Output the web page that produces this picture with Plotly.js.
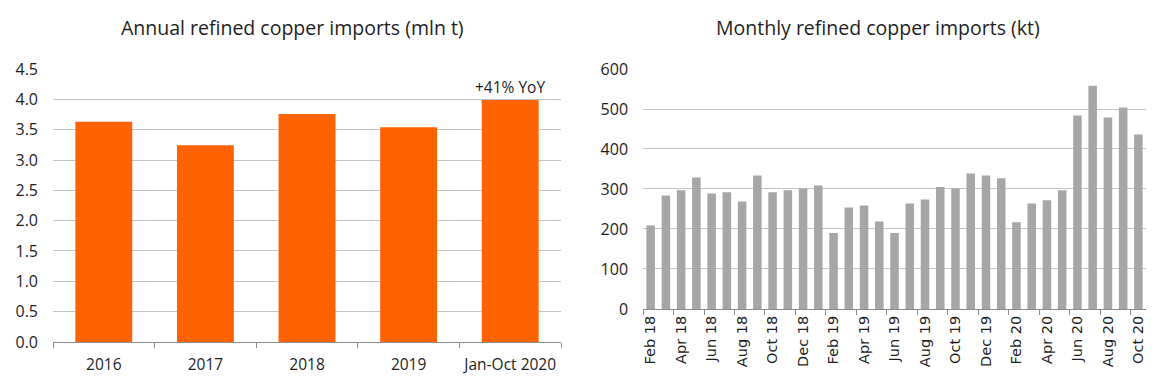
<!DOCTYPE html>
<html>
<head>
<meta charset="utf-8">
<script src="https://cdn.plot.ly/plotly-3.0.1.min.js"></script>
<style>html,body{margin:0;padding:0;background:#fff;}#chart{width:1170px;height:387px;}</style>
</head>
<body>
<div id="chart"></div>
<script>
const annualCategories = ["2016", "2017", "2018", "2019", "Jan-Oct 2020"];
const annualValues = [3.63, 3.245, 3.76, 3.54, 3.99];
const annualNote = "+41% YoY";

const monthlyCategories = [
  "Feb 18","Mar 18","Apr 18","May 18","Jun 18","Jul 18","Aug 18","Sep 18","Oct 18","Nov 18","Dec 18",
  "Jan 19","Feb 19","Mar 19","Apr 19","May 19","Jun 19","Jul 19","Aug 19","Sep 19","Oct 19","Nov 19","Dec 19",
  "Jan 20","Feb 20","Mar 20","Apr 20","May 20","Jun 20","Jul 20","Aug 20","Sep 20","Oct 20"
];
const monthlyValues = [
  209, 284, 297, 329, 289, 292, 269, 334, 292, 297, 301,
  309, 190, 254, 259, 219, 190, 264, 274, 305, 301, 339, 334,
  327, 217, 264, 272, 297, 484, 558, 479, 504, 436
];

const titleLeft = "Annual refined copper imports (mln t)";
const titleRight = "Monthly refined copper imports (kt)";

const textColor = "#1e1e1e";
const gridColor = "#c4c4c4";
const axisColor = "#8c8c8c";
const fontMain = "Open Sans, Lato, sans-serif";

const traces = [
  {
    type: "bar", x: annualCategories, y: annualValues,
    xaxis: "x", yaxis: "y",
    marker: {color: "#ff6200"}, hoverinfo: "skip"
  },
  {
    type: "bar", x: monthlyCategories, y: monthlyValues,
    xaxis: "x2", yaxis: "y2",
    marker: {color: "#a6a6a6"}, hoverinfo: "skip"
  }
];

const layout = {
  width: 1170, height: 387,
  margin: {l: 0, r: 0, t: 0, b: 0},
  paper_bgcolor: "#ffffff", plot_bgcolor: "#ffffff",
  showlegend: false,
  bargap: 0.44,
  font: {family: fontMain, color: textColor, size: 15},
  xaxis: {
    domain: [0.0453, 0.4795], anchor: "y", type: "category",
    showgrid: false, showline: true, linecolor: axisColor, linewidth: 1,
    ticks: "outside", tickson: "boundaries", ticklen: 5, tickcolor: axisColor,
    tickangle: 0, ticklabelstandoff: 8,
    tickfont: {family: fontMain, size: 15.5, color: textColor},
    fixedrange: true
  },
  yaxis: {
    domain: [0.1163, 0.8217], anchor: "x",
    range: [0, 4.5], dtick: 0.5, tickformat: ".1f",
    showgrid: true, gridcolor: gridColor, gridwidth: 1,
    zeroline: false, showline: false, ticks: "",
    ticklabelstandoff: 14,
    tickfont: {family: fontMain, size: 16, color: textColor},
    fixedrange: true
  },
  xaxis2: {
    domain: [0.5496, 0.9795], anchor: "y2", type: "category",
    showgrid: false, showline: true, linecolor: axisColor, linewidth: 1,
    ticks: "outside", tickson: "boundaries", ticklen: 5, tickcolor: axisColor,
    dtick: 2, tickangle: -90,
    tickfont: {family: "DejaVu Sans, sans-serif", size: 14.5, color: textColor},
    fixedrange: true
  },
  yaxis2: {
    domain: [0.2016, 0.8217], anchor: "x2",
    range: [0, 600], dtick: 100,
    showgrid: true, gridcolor: gridColor, gridwidth: 1,
    zeroline: false, showline: false, ticks: "",
    ticklabelstandoff: 14,
    tickfont: {family: fontMain, size: 16, color: textColor},
    fixedrange: true
  },
  annotations: [
    {
      text: titleLeft, xref: "paper", yref: "paper",
      x: 292 / 1170, y: 1 - 27 / 387, xanchor: "center", yanchor: "middle",
      showarrow: false, font: {family: fontMain, size: 19.5, color: textColor}
    },
    {
      text: titleRight, xref: "paper", yref: "paper",
      x: 878 / 1170, y: 1 - 27 / 387, xanchor: "center", yanchor: "middle",
      showarrow: false, font: {family: fontMain, size: 19.5, color: textColor}
    },
    {
      text: annualNote, xref: "x", yref: "y",
      x: annualCategories[annualCategories.length - 1],
      y: annualValues[annualValues.length - 1],
      xanchor: "center", yanchor: "bottom", yshift: 0,
      showarrow: false, font: {family: fontMain, size: 15.5, color: textColor}
    }
  ]
};

Plotly.newPlot("chart", traces, layout, {staticPlot: true, displayModeBar: false});
</script>
</body>
</html>
